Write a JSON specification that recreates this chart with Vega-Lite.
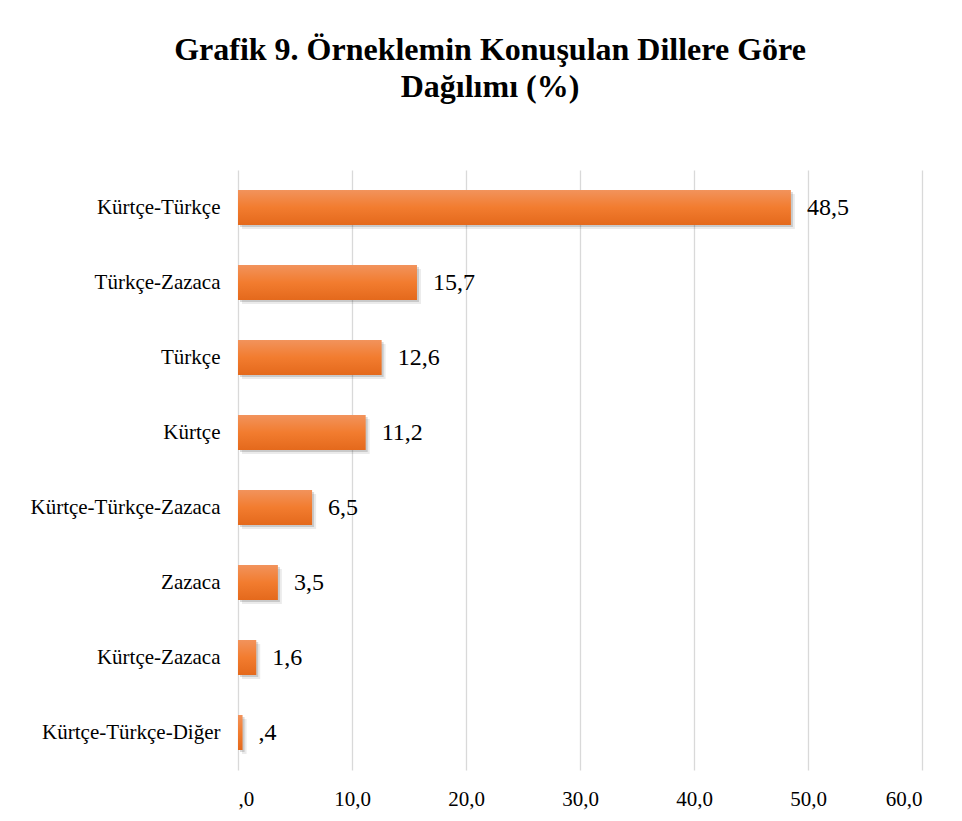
{
  "$schema": "https://vega.github.io/schema/vega-lite/v6.json",
  "width": 684,
  "height": 600,
  "autosize": {"type": "none"},
  "padding": {"left": 238, "top": 170, "right": 40, "bottom": 51},
  "background": "white",
  "title": {
    "text": ["Grafik 9. Örneklemin Konuşulan Dillere Göre", "Dağılımı (%)"],
    "font": "Liberation Serif, Times New Roman, serif",
    "fontSize": 32,
    "fontWeight": "bold",
    "color": "#000000",
    "anchor": "middle",
    "frame": "group",
    "dx": -90,
    "lineHeight": 37,
    "offset": 66
  },
  "data": {
    "values": [
      {"dil": "Kürtçe-Türkçe", "pct": 48.5},
      {"dil": "Türkçe-Zazaca", "pct": 15.7},
      {"dil": "Türkçe", "pct": 12.6},
      {"dil": "Kürtçe", "pct": 11.2},
      {"dil": "Kürtçe-Türkçe-Zazaca", "pct": 6.5},
      {"dil": "Zazaca", "pct": 3.5},
      {"dil": "Kürtçe-Zazaca", "pct": 1.6},
      {"dil": "Kürtçe-Türkçe-Diğer", "pct": 0.4}
    ]
  },
  "transform": [
    {"calculate": "(datum.pct < 1 ? '' : format(floor(datum.pct), 'd')) + ',' + format(round(datum.pct * 10) % 10, 'd')", "as": "lbl"}
  ],
  "encoding": {
    "y": {
      "field": "dil",
      "type": "nominal",
      "sort": null,
      "title": null,
      "axis": {
        "domain": false,
        "ticks": false,
        "labelFont": "Liberation Serif, Times New Roman, serif",
        "labelFontSize": 21,
        "labelColor": "#000000",
        "labelPadding": 18,
        "labelLimit": 0
      }
    },
    "x": {
      "field": "pct",
      "type": "quantitative",
      "scale": {"domain": [0, 60], "nice": false},
      "title": null,
      "axis": {
        "values": [0, 10, 20, 30, 40, 50, 60],
        "domain": false,
        "ticks": false,
        "grid": true,
        "gridColor": "#D9D9D9",
        "gridWidth": 1.3,
        "labelFont": "Liberation Serif, Times New Roman, serif",
        "labelFontSize": 21,
        "labelColor": "#000000",
        "labelPadding": 18,
        "labelExpr": "datum.value == 0 ? ',0' : replace(format(datum.value, '.1f'), '.', ',')"
      }
    }
  },
  "layer": [
    {
      "mark": {"type": "bar", "size": 35, "color": "#000000", "opacity": 0.08, "xOffset": 4, "yOffset": 4}
    },
    {
      "mark": {"type": "bar", "size": 35, "color": "#000000", "opacity": 0.14, "xOffset": 2, "yOffset": 2}
    },
    {
      "mark": {
        "type": "bar",
        "size": 35,
        "color": {
          "gradient": "linear",
          "x1": 0, "y1": 0, "x2": 0, "y2": 1,
          "stops": [
            {"offset": 0, "color": "#F2935C"},
            {"offset": 0.5, "color": "#F27C2F"},
            {"offset": 1, "color": "#E4691C"}
          ]
        }
      }
    },
    {
      "mark": {
        "type": "text",
        "align": "left",
        "baseline": "middle",
        "dx": 16,
        "font": "Liberation Serif, Times New Roman, serif",
        "fontSize": 24,
        "color": "#000000"
      },
      "encoding": {"text": {"field": "lbl", "type": "nominal"}}
    }
  ],
  "config": {"view": {"stroke": null}}
}
